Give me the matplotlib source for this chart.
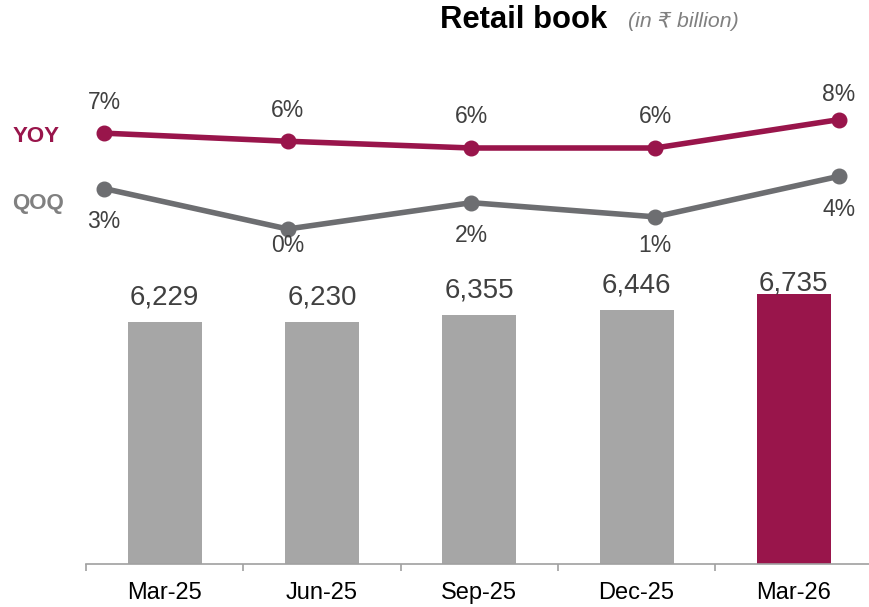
import matplotlib
matplotlib.use("Agg")
import matplotlib.pyplot as plt

plt.rcParams['font.family'] = ['Liberation Sans', 'DejaVu Sans']

# data
quarters = ['Mar-25', 'Jun-25', 'Sep-25', 'Dec-25', 'Mar-26']
retail_book = [6229, 6230, 6355, 6446, 6735]
yoy = [7.1, 6.5, 6.0, 6.0, 8.1]
qoq = [3.0, 0.0, 1.95, 0.9, 3.9]
yoy_labels = ['7%', '6%', '6%', '6%', '8%']
qoq_labels = ['3%', '0%', '2%', '1%', '4%']

maroon = '#99154B'
bar_grey = '#A6A6A6'
line_grey = '#6D6E71'
text_dark = '#404040'

W, H = 869, 607
fig = plt.figure(figsize=(W / 100, H / 100), dpi=100)

def frac(x0, y0, w, h):
    # pixel box (top-left origin) -> figure fraction
    return [x0 / W, 1 - (y0 + h) / H, w / W, h / H]

# bars
ax = fig.add_axes(frac(86, 270, 786.5, 294))
x = list(range(len(quarters)))
colors = [bar_grey] * (len(quarters) - 1) + [maroon]
ax.bar(x, retail_book, width=0.47, color=colors, zorder=2)
ax.set_xlim(-0.5, len(quarters) - 0.5)
ax.set_ylim(1905, 7164)
for xi, v in zip(x, retail_book):
    ax.text(xi, min(v + 447, 6914), f'{v:,}', ha='center', va='center',
            fontsize=20, color=text_dark)

for s in ['top', 'right', 'left']:
    ax.spines[s].set_visible(False)
ax.spines['bottom'].set_color('#A0A0A0')
ax.spines['bottom'].set_linewidth(1.2)
ax.set_yticks([])
ax.set_xticks([i - 0.5 for i in range(len(quarters) + 1)])
ax.set_xticklabels([])
ax.tick_params(axis='x', which='major', length=5, width=1.2, color='#A0A0A0')
ax.set_xticks(x, minor=True)
ax.set_xticklabels(quarters, minor=True, fontsize=17, color='black')
ax.tick_params(axis='x', which='minor', length=0, pad=13)

# growth lines
ax2 = fig.add_axes(frac(104, 94, 734.8, 135))
ax2.set_xlim(0, 4)
ax2.set_ylim(0, 10)
ax2.axis('off')
ax2.plot(x, yoy, color=maroon, lw=4, marker='o', ms=10.5, clip_on=False, zorder=3)
ax2.plot(x, qoq, color=line_grey, lw=4, marker='o', ms=10.5, clip_on=False, zorder=3)
for xi, v, lab in zip(x, yoy, yoy_labels):
    ax2.text(xi, min(v + 2.3, 9.93), lab, ha='center', va='center',
             fontsize=16.5, color=text_dark, clip_on=False)
for xi, v, lab in zip(x, qoq, qoq_labels):
    ax2.text(xi, max(v - 2.44, -1.19), lab, ha='center', va='center',
             fontsize=16.5, color=text_dark, clip_on=False)

fig.text(36 / W, 1 - 137 / H, 'YOY', ha='center', va='center',
         fontsize=16, fontweight='bold', color=maroon)
fig.text(38 / W, 1 - 203 / H, 'QOQ', ha='center', va='center',
         fontsize=16, fontweight='bold', color='#808080')

# title
fig.text(440 / W, 1 - 20 / H, 'Retail book', ha='left', va='center',
         fontsize=22.3, fontweight='bold', color='black')
fig.text(628 / W, 1 - 21 / H, '(in ₹ billion)', ha='left', va='center',
         fontsize=15.3, style='italic', color='#808080')

fig.savefig('out.png', dpi=100)
